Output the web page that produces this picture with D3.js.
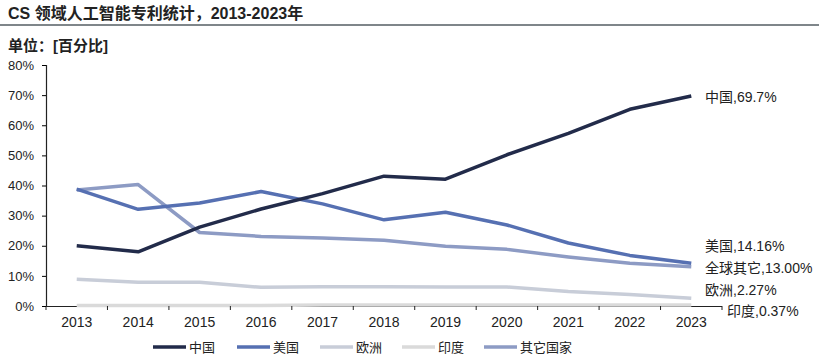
<!DOCTYPE html>
<html>
<head>
<meta charset="utf-8">
<script src="https://cdn.jsdelivr.net/npm/d3@7"></script>
<style>
body { margin: 0; background: #fff; }
text { font-family: "Liberation Sans", "Noto Sans CJK SC", sans-serif; fill: #222; }
</style>
</head>
<body>
<div id="chart"></div>
<script>
var years = ['2013', '2014', '2015', '2016', '2017', '2018', '2019', '2020', '2021', '2022', '2023'];
var china = [20, 18, 26.2, 32.2, 37.3, 43.1, 42.1, 50.2, 57.3, 65.3, 69.7];
var usa = [38.8, 32.1, 34.2, 38, 33.9, 28.6, 31.1, 26.9, 20.9, 16.8, 14.16];
var europe = [8.9, 7.9, 7.9, 6.2, 6.4, 6.4, 6.3, 6.3, 4.8, 3.8, 2.6];
var india = [0.2, 0.2, 0.2, 0.2, 0.3, 0.3, 0.3, 0.3, 0.3, 0.3, 0.37];
var others = [38.5, 40.3, 24.4, 23.1, 22.6, 21.8, 19.8, 18.8, 16.3, 14.2, 13.0];
var yTicks = [0, 10, 20, 30, 40, 50, 60, 70, 80];

var series = [
  { name: '中国', values: china, color: '#222b4a', label: '中国,69.7%' },
  { name: '美国', values: usa, color: '#5670b2', label: '美国,14.16%' },
  { name: '欧洲', values: europe, color: '#c8cdd8', label: '欧洲,2.27%' },
  { name: '印度', values: india, color: '#dadada', label: '印度,0.37%' },
  { name: '其它国家', values: others, color: '#8d9bc4', label: '全球其它,13.00%' }
];

var width = 830;
var height = 361;
var svg = d3.select('#chart').append('svg').attr('width', width).attr('height', height);

// title + subtitle
svg.append('text').attr('x', 8).attr('y', 19).attr('font-size', 16).attr('font-weight', 'bold')
  .text('CS 领域人工智能专利统计，2013-2023年');
svg.append('line').attr('x1', 0).attr('x2', 819).attr('y1', 25).attr('y2', 25)
  .attr('stroke', '#555e63').attr('stroke-width', 1.5);
svg.append('text').attr('x', 8).attr('y', 51).attr('font-size', 15).attr('font-weight', 'bold')
  .text('单位：[百分比]');

var x = d3.scaleBand().domain(years).range([46, 722]);
var y = d3.scaleLinear().domain([0, 80]).range([306, 65]);

// axis baseline first, the 印度 line is drawn over it
svg.append('line').attr('x1', 46).attr('x2', 722).attr('y1', 306.5).attr('y2', 306.5)
  .attr('stroke', '#222').attr('stroke-width', 1.2);

var line = d3.line()
  .x(function(d, i) { return x(years[i]) + x.bandwidth() / 2; })
  .y(function(d) { return y(d); });

// lighter ones first
var order = [3, 2, 4, 1, 0];
order.forEach(function(k) {
  var s = series[k];
  svg.append('path').attr('d', line(s.values)).attr('fill', 'none')
    .attr('stroke', s.color).attr('stroke-width', 3.5).attr('stroke-linejoin', 'round');
});

// axes
var xAxis = svg.append('g').attr('transform', 'translate(0,306)')
  .call(d3.axisBottom(x).tickSize(0).tickPadding(11));
xAxis.select('.domain').remove();
xAxis.selectAll('text').attr('font-size', 14).attr('font-family', '"Liberation Sans", sans-serif');
xAxis.selectAll('.bound').data(d3.range(years.length + 1)).enter().append('line')
  .attr('x1', function(d) { return 46 + d * x.step(); })
  .attr('x2', function(d) { return 46 + d * x.step(); })
  .attr('y1', 0).attr('y2', 4).attr('stroke', '#222').attr('stroke-width', 1);

var yAxis = svg.append('g').attr('transform', 'translate(46,0)')
  .call(d3.axisLeft(y).tickValues(yTicks).tickSize(4).tickPadding(8)
    .tickFormat(function(d) { return d + '%'; }));
yAxis.select('.domain').attr('stroke', '#222').attr('stroke-width', 1.2);
yAxis.selectAll('text').attr('font-size', 13).attr('font-family', '"Liberation Sans", sans-serif');

// end labels
var endY = [97, 246, 290, 311, 268];
var endX = [705, 705, 705, 727, 705];
series.forEach(function(s, i) {
  svg.append('text').attr('x', endX[i]).attr('y', endY[i]).attr('dy', '0.35em')
    .attr('font-size', 14).text(s.label);
});

// legend
var legendX = [153, 237, 320, 402, 484];
series.forEach(function(s, i) {
  svg.append('line').attr('x1', legendX[i]).attr('x2', legendX[i] + 33)
    .attr('y1', 347).attr('y2', 347).attr('stroke', s.color).attr('stroke-width', 3.5);
  svg.append('text').attr('x', legendX[i] + 36).attr('y', 347).attr('dy', '0.35em')
    .attr('font-size', 13).text(s.name);
});
</script>
</body>
</html>
